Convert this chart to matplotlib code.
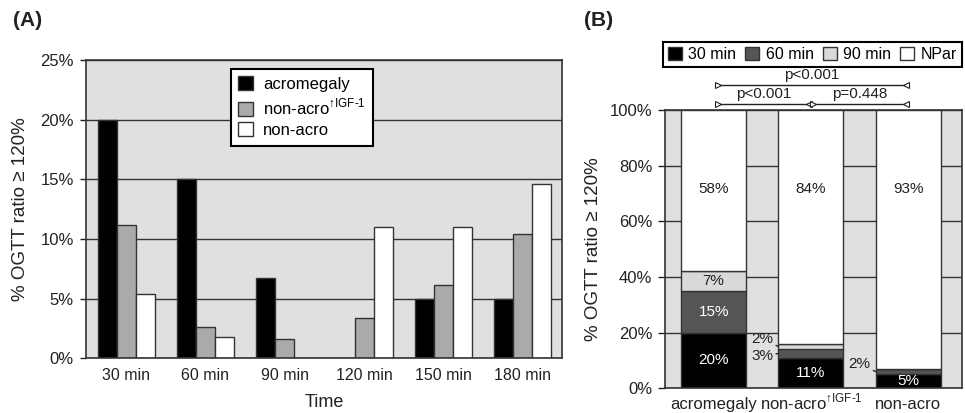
"""Two-panel OGTT ratio figure: grouped bars (A) and stacked bars (B)."""

import matplotlib

matplotlib.use("Agg")
import matplotlib.pyplot as plt  # noqa: E402
import numpy as np  # noqa: E402
from matplotlib.ticker import FuncFormatter  # noqa: E402

plt.rcParams["font.family"] = ["Liberation Sans", "DejaVu Sans"]
plt.rcParams["mathtext.fontset"] = "custom"
plt.rcParams["mathtext.rm"] = "Liberation Sans"

INK = "#222222"
EDGE = "#333333"
BG = "#e0e0e0"
SUP = "non-acro$^{\\mathrm{\u2191IGF\u20101}}$"

# panel A data (% of patients with OGTT ratio >= 120% at each time point)
times = ["30 min", "60 min", "90 min", "120 min", "150 min", "180 min"]
acro = [20.0, 15.0, 6.7, 0.0, 5.0, 5.0]
nonacro_igf = [11.2, 2.6, 1.6, 3.4, 6.1, 10.4]
nonacro = [5.4, 1.8, 0.0, 11.0, 11.0, 14.6]
series_a = ["acromegaly", SUP, "non-acro"]

# panel B data (stacked, by first time point reaching the threshold)
groups = ["acromegaly", SUP, "non-acro"]
seg_names = ["30 min", "60 min", "90 min", "NPar"]
seg_30 = [20, 11, 5]
seg_60 = [15, 3, 2]
seg_90 = [7, 2, 0]
seg_npar = [58, 84, 93]

pct = FuncFormatter(lambda v, _: f"{v:.0f}%")

fig = plt.figure(figsize=(9.65, 4.13), dpi=100)

# ---------------- panel A ----------------
axA = fig.add_axes([0.0896, 0.1325, 0.4933, 0.7222])
axA.set_facecolor(BG)
axA.set_axisbelow(True)
axA.yaxis.grid(True, color=EDGE, lw=1)
x = np.arange(len(times))
w = 0.24
colors_a = ["black", "#aaaaaa", "white"]
for i, (vals, lab, c) in enumerate(zip([acro, nonacro_igf, nonacro], series_a, colors_a)):
    axA.bar(x + (i - 1) * w, vals, w, color=c, edgecolor=EDGE, lw=1, label=lab, zorder=2)
axA.set_xlim(-0.5, len(times) - 0.5)
axA.set_ylim(0, 25)
axA.set_yticks(np.arange(0, 26, 5))
axA.yaxis.set_major_formatter(pct)
axA.set_xticks(x)
axA.set_xticklabels(times)
axA.tick_params(axis="x", length=0, pad=7, labelsize=11.5, colors=INK)
axA.tick_params(axis="y", length=4, width=1, pad=5, labelsize=12, colors=INK)
for s in axA.spines.values():
    s.set_color(EDGE)
    s.set_linewidth(1.2)
axA.set_xlabel("Time", fontsize=13, color=INK, labelpad=8)
axA.set_ylabel("% OGTT ratio \u2265 120%", fontsize=13.5, color=INK, labelpad=8)
legA = axA.legend(loc="upper left", bbox_to_anchor=(0.303, 0.971), borderaxespad=0,
                  fontsize=12, frameon=True, fancybox=False, edgecolor="black", framealpha=1,
                  handlelength=0.9, handleheight=0.9, labelspacing=0.3,
                  handletextpad=0.6, borderpad=0.45)
legA.get_frame().set_linewidth(1.5)
fig.text(0.013, 0.95, "(A)", fontsize=15, fontweight="bold", color=INK, va="center")

# ---------------- panel B ----------------
axB = fig.add_axes([0.6891, 0.0598, 0.3075, 0.6743])
axB.set_facecolor(BG)
axB.set_axisbelow(True)
axB.yaxis.grid(True, color=EDGE, lw=1)
xb = np.arange(len(groups))
bw = 0.667
colors_b = ["black", "#555555", "#d9d9d9", "white"]
bottom = np.zeros(len(groups))
for vals, name, c in zip([seg_30, seg_60, seg_90, seg_npar], seg_names, colors_b):
    axB.bar(xb, vals, bw, bottom=bottom, color=c, edgecolor=EDGE, lw=1, label=name, zorder=2)
    bottom += np.array(vals)
axB.set_xlim(-0.5, 2.55)
axB.set_ylim(0, 100)
axB.set_yticks(np.arange(0, 101, 20))
axB.yaxis.set_major_formatter(pct)
axB.set_xticks(xb)
axB.set_xticklabels(groups)
axB.tick_params(axis="x", length=0, pad=15, labelsize=12, colors=INK)
for t in axB.get_xticklabels():
    t.set_verticalalignment("baseline")
axB.tick_params(axis="y", length=5, width=1, pad=4, labelsize=12, colors=INK)
for s in axB.spines.values():
    s.set_color(EDGE)
    s.set_linewidth(1.2)
axB.set_ylabel("% OGTT ratio \u2265 120%", fontsize=13.5, color=INK, labelpad=6)

# value labels inside the segments
for i in range(len(groups)):
    base = 0
    for vals, c in zip([seg_30, seg_60, seg_90], colors_b):
        v = vals[i]
        if v >= 5:
            tc = "white" if c in ("black", "#555555") else INK
            axB.text(xb[i], base + v / 2, f"{v}%", ha="center", va="center",
                     fontsize=11, color=tc, zorder=3)
        base += v
    axB.text(xb[i], 71.5, f"{seg_npar[i]}%", ha="center", va="center", fontsize=11,
             color=INK, zorder=3)

# small segments labelled outside with leader lines
small = [(1, 15.0, 17.6, seg_90[1]), (1, 12.5, 11.6, seg_60[1]), (2, 6.0, 8.7, seg_60[2])]
for gi, yseg, ytxt, v in small:
    axB.annotate(f"{v}%", xy=(xb[gi] - bw / 2, yseg), xytext=(xb[gi] - 0.5, ytxt),
                 ha="center", va="center", fontsize=11, color=INK, zorder=3,
                 arrowprops=dict(arrowstyle="-", color=INK, lw=1, shrinkA=2, shrinkB=0))


def bracket(x0, x1, y, label):
    axB.plot([x0, x1], [y, y], color=INK, lw=1, clip_on=False, zorder=4)
    axB.plot([x0], [y], marker=">", ms=5, mfc="white", mec=INK, mew=0.8, clip_on=False, zorder=5)
    axB.plot([x1], [y], marker="<", ms=5, mfc="white", mec=INK, mew=0.8, clip_on=False, zorder=5)
    axB.text((x0 + x1) / 2, y + 1.0, label, ha="center", va="bottom", fontsize=11, color=INK,
             clip_on=False)


bracket(0.04, 1.98, 109.0, "p<0.001")
bracket(0.04, 0.98, 102.0, "p<0.001")
bracket(1.02, 1.98, 102.0, "p=0.448")

legB = axB.legend(loc="lower left", bbox_to_anchor=(-0.007, 1.155, 1.007, 0.078), mode="expand",
                  ncol=4, borderaxespad=0, fontsize=11.5, frameon=True, fancybox=False,
                  edgecolor="black", framealpha=1, handlelength=0.9, handleheight=0.9,
                  handletextpad=0.4, columnspacing=0.8, borderpad=0.3)
legB.get_frame().set_linewidth(1.5)
fig.text(0.605, 0.95, "(B)", fontsize=15, fontweight="bold", color=INK, va="center")

fig.savefig("out.png", dpi=100)
